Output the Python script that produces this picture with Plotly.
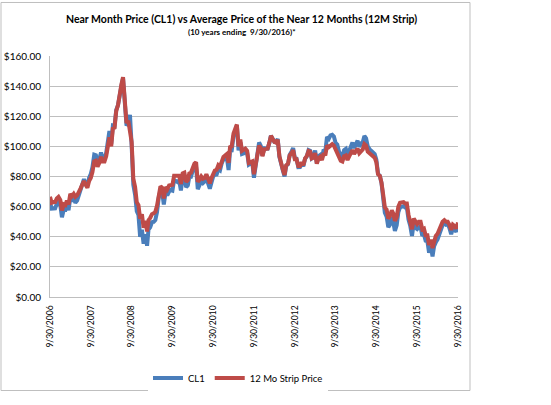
import pandas as pd
import plotly.graph_objects as go

# semi-monthly observations: 9/30/2006, then the 15th and month end of each month to 9/30/2016
months = pd.date_range('2006-10-01', '2016-09-01', freq='MS')
dates = [pd.Timestamp('2006-09-30')]
for m in months:
    dates.append(m + pd.Timedelta(days=14))
    dates.append(m + pd.offsets.MonthEnd(0))

cl1_2006 = [62.9, 58.6, 58.7, 58.8, 62.0, 63.4, 61.1]
cl1_2007 = [52.9, 58.1, 57.9, 61.8, 57.6, 65.9, 63.6, 65.7, 62.6, 64.0, 68.0, 70.7,
            74.0, 78.2, 75.4, 74.0, 79.1, 81.7, 86.1, 94.5, 94.1, 88.7, 91.3, 96.0]
cl1_2008 = [91.9, 91.8, 95.5, 101.8, 110.2, 101.6, 113.8, 113.5, 124.1, 127.4, 134.9, 140.0,
            145.2, 124.1, 113.8, 115.5, 120.9, 100.6, 74.5, 67.8, 57.0, 54.4, 40.0, 44.6]
cl1_2009 = [35.4, 41.7, 34.0, 44.8, 46.3, 49.7, 49.9, 51.1, 56.3, 66.3, 70.6, 69.9,
            61.5, 69.5, 67.5, 70.0, 71.0, 70.6, 77.6, 77.0, 76.3, 77.3, 70.7, 79.4]
cl1_2010 = [79.4, 72.9, 74.1, 79.7, 79.8, 83.8, 85.5, 86.2, 71.6, 74.0, 76.9, 75.6,
            76.6, 79.0, 75.4, 71.9, 76.0, 80.0, 81.2, 81.4, 84.9, 84.1, 88.6, 91.4]
cl1_2011 = [91.5, 92.2, 84.3, 97.0, 97.2, 106.7, 109.7, 113.9, 97.4, 102.7, 95.0, 95.4,
            97.2, 95.7, 87.9, 88.8, 89.4, 79.2, 86.8, 93.2, 102.6, 100.4, 93.9, 98.8]
cl1_2012 = [98.7, 98.5, 102.3, 107.1, 105.1, 103.0, 102.8, 104.9, 93.0, 86.5, 84.0, 80.0,
            87.1, 88.1, 94.3, 96.5, 98.9, 92.2, 91.9, 86.2, 86.3, 88.9, 86.7, 91.8]
cl1_2013 = [93.3, 97.5, 97.0, 92.1, 93.0, 97.2, 88.7, 93.5, 94.3, 92.0, 97.9, 96.6,
            106.3, 105.0, 107.3, 107.7, 106.6, 102.3, 101.2, 96.4, 93.8, 92.7, 97.5, 98.4]
cl1_2014 = [94.2, 97.5, 100.3, 102.6, 98.9, 101.6, 103.8, 99.7, 102.0, 102.7, 106.9, 105.4,
            100.0, 98.2, 97.4, 96.0, 94.9, 91.2, 81.8, 80.5, 75.6, 66.2, 55.9, 53.3]
cl1_2015 = [46.3, 48.2, 52.8, 49.8, 43.9, 47.6, 56.4, 59.6, 59.7, 60.3, 59.5, 59.5,
            51.4, 47.1, 40.5, 49.2, 46.0, 45.1, 46.4, 46.6, 40.7, 41.7, 37.4, 37.0]
cl1_2016 = [29.4, 33.6, 27.0, 33.8, 36.3, 38.3, 41.5, 45.9, 47.7, 49.1, 48.0, 48.3,
            45.9, 41.6, 45.7, 44.7, 43.3, 48.2]

strip_2006 = [66.5, 62.5, 63.0, 63.0, 65.5, 66.5, 64.5]
strip_2007 = [57.5, 61.5, 61.0, 64.0, 61.5, 68.5, 67.0, 68.5, 66.5, 67.5, 70.5, 72.0,
              74.5, 77.0, 74.5, 72.5, 77.0, 79.0, 83.0, 90.0, 90.5, 86.5, 89.0, 93.0]
strip_2008 = [90.0, 90.0, 93.5, 99.5, 106.0, 100.0, 112.0, 112.5, 123.5, 127.5, 135.5, 141.0,
              146.0, 125.5, 115.5, 117.0, 110.0, 103.0, 78.5, 73.0, 63.0, 61.0, 52.0, 55.0]
strip_2009 = [46.0, 50.5, 43.5, 51.0, 52.5, 55.0, 55.5, 56.5, 60.5, 69.5, 73.5, 72.5,
              65.5, 73.0, 71.5, 74.0, 74.5, 74.5, 80.5, 80.5, 80.0, 80.5, 75.0, 82.0]
strip_2010 = [82.5, 76.5, 77.5, 82.0, 82.5, 86.0, 88.5, 89.5, 76.5, 78.0, 80.0, 78.5,
              79.0, 81.5, 78.5, 75.5, 79.0, 82.5, 84.0, 84.5, 87.5, 86.5, 90.5, 93.0]
strip_2011 = [94.0, 95.0, 89.0, 99.5, 100.0, 108.5, 111.5, 114.5, 100.0, 104.5, 97.0, 97.5,
              98.5, 97.0, 89.0, 89.5, 90.0, 81.5, 88.0, 93.0, 100.5, 99.0, 93.5, 98.0]
strip_2012 = [98.5, 98.5, 102.5, 107.0, 105.0, 103.0, 102.5, 104.5, 93.5, 87.0, 84.5, 81.0,
              87.5, 88.5, 94.0, 95.5, 97.5, 91.5, 91.5, 87.0, 87.0, 89.5, 87.5, 92.0]
strip_2013 = [93.5, 97.0, 96.5, 92.0, 92.5, 95.5, 88.5, 92.0, 93.0, 91.0, 95.5, 94.0,
              100.5, 99.5, 101.0, 101.5, 100.5, 98.0, 96.5, 92.5, 90.5, 90.0, 93.5, 94.0]
strip_2014 = [91.0, 93.5, 96.0, 97.5, 95.0, 96.5, 98.5, 95.5, 97.0, 98.0, 101.5, 100.5,
              96.5, 95.5, 94.5, 93.5, 92.5, 89.5, 81.5, 80.5, 76.0, 68.0, 59.5, 58.0]
strip_2015 = [52.0, 54.0, 57.5, 55.5, 50.5, 53.0, 60.0, 62.5, 62.5, 63.0, 62.0, 62.0,
              54.5, 50.5, 45.0, 52.0, 49.5, 48.5, 50.0, 50.0, 45.0, 45.5, 41.0, 41.0]
strip_2016 = [34.5, 38.0, 32.5, 38.0, 40.5, 42.0, 44.5, 48.5, 50.0, 51.0, 50.0, 50.0,
              48.0, 44.5, 48.0, 47.0, 45.5, 49.5]

cl1 = (cl1_2006 + cl1_2007 + cl1_2008 + cl1_2009 + cl1_2010 + cl1_2011
       + cl1_2012 + cl1_2013 + cl1_2014 + cl1_2015 + cl1_2016)
strip = (strip_2006 + strip_2007 + strip_2008 + strip_2009 + strip_2010 + strip_2011
         + strip_2012 + strip_2013 + strip_2014 + strip_2015 + strip_2016)

tick_years = list(range(2006, 2017))
tick_dates = [pd.Timestamp(f'{y}-09-30') for y in tick_years]
tick_text = [f'9/30/{y}' for y in tick_years]

title = 'Near Month Price (CL1) vs Average Price of the Near 12 Months (12M Strip)'
subtitle = '(10 years ending  9/30/2016)*'

W, H = 551, 405
L, R, T, B = 50, 458, 56, 306   # plot area in pixels


def px(x):
    return (x - L) / (R - L)


def py(y):
    return (B - y) / (B - T)


font_fam = 'Lato, Open Sans, Liberation Sans, Arial'

fig = go.Figure()
fig.add_trace(go.Scatter(x=dates, y=cl1, name='CL1', mode='lines',
                         line=dict(color='#4a7ebb', width=4)))
fig.add_trace(go.Scatter(x=dates, y=strip, name='12 Mo Strip Price', mode='lines',
                         line=dict(color='#be4b48', width=4)))

fig.update_layout(
    width=W, height=H,
    margin=dict(l=L, r=W - R, t=T, b=H - B, pad=0),
    paper_bgcolor='white', plot_bgcolor='white',
    font=dict(family=font_fam, size=10, color='#000000'),
    showlegend=True,
    legend=dict(orientation='h', x=px(238), y=py(390), xanchor='center', yanchor='middle',
                font=dict(size=9.5), tracegroupgap=0),
    xaxis=dict(range=[dates[0], dates[-1]], tickvals=tick_dates, ticktext=tick_text,
               tickangle=-90, tickfont=dict(size=8.5), showgrid=False, automargin=False,
               showline=True, linecolor='#bfbfbf', linewidth=1, ticks='', zeroline=False,
               ticklabelstandoff=4),
    yaxis=dict(range=[0, 160], dtick=20, tickformat='$,.2f', tickfont=dict(size=10),
               showgrid=True, gridcolor='#bfbfbf', gridwidth=1, automargin=False,
               showline=True, linecolor='#bfbfbf', linewidth=1, ticks='', zeroline=False,
               ticklabelstandoff=6),
)

fig.add_shape(type='rect', xref='paper', yref='paper',
              x0=px(1), x1=px(470), y0=py(403), y1=py(0.5),
              line=dict(color='#bfbfbf', width=1))

fig.add_annotation(text='<b>' + title + '</b>', xref='paper', yref='paper',
                   x=px(241), y=py(18), showarrow=False, xanchor='center', yanchor='middle',
                   font=dict(size=10.5))
fig.add_annotation(text='<b>' + subtitle + '</b>', xref='paper', yref='paper',
                   x=px(242), y=py(31), showarrow=False, xanchor='center', yanchor='middle',
                   font=dict(size=8))

fig.write_html('out.html', config={'displayModeBar': False},
               post_script="document.body.style.margin='0px';")
